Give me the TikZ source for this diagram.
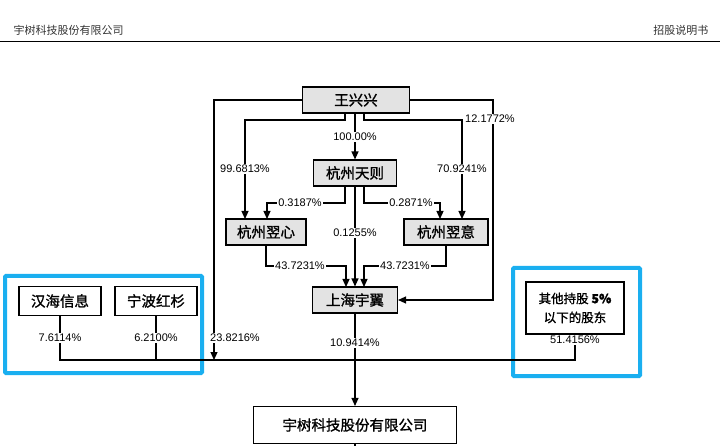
\documentclass[tikz,border=0pt]{standalone}
\usepackage{fontspec}
\setmainfont{Liberation Sans}
\newfontfamily\cjk[FakeBold=1.2]{Noto Sans CJK SC}
\newfontfamily\cjkh{Noto Sans CJK SC}
\definecolor{hl}{HTML}{1AAFF0}
\usetikzlibrary{arrows.meta}
\begin{document}
\begin{tikzpicture}[x=1pt,y=-1pt,
 box/.style={draw,line width=1.1pt,fill=gray!22,font=\cjk\fontsize{14.5}{16}\selectfont,inner sep=0pt,minimum height=26pt},
 wbox/.style={box,fill=white},
 lab/.style={fill=white,inner sep=1pt,font=\fontsize{11}{13}\selectfont},
 ln/.style={line width=1.2pt},
 ar/.style={line width=1.2pt,-{Triangle[length=8pt,width=7pt]}},
 blue/.style={draw=hl,line width=4pt,rounded corners=1pt}]
\useasboundingbox (0,0) rectangle (720,446);
\node[anchor=west,font=\cjkh\fontsize{11}{13}\selectfont,text=black!80] (h1) at (10,30) {宇树科技股份有限公司};
\node[anchor=east,font=\cjkh\fontsize{11}{13}\selectfont,text=black!80] (h2) at (712,30) {招股说明书};
\draw[thick] (0,41) -- (720,41);
\node[box,minimum width=107pt] (w) at (356,100) {王兴兴};
\node[box,minimum width=83pt] (t) at (355,173) {杭州天则};
\node[box,minimum width=80pt] (xx) at (266,232) {杭州翌心};
\node[box,minimum width=84pt] (xy) at (446,232) {杭州翌意};
\node[box,minimum width=85pt] (sh) at (355,300) {上海宇翼};
\node[wbox,minimum width=82pt,minimum height=29pt] (hh) at (60,301) {汉海信息};
\node[wbox,minimum width=82pt,minimum height=29pt] (nb) at (156,301) {宁波红杉};
\node[wbox,minimum width=98pt,minimum height=52pt,align=center,font=\cjk\fontsize{12.5}{19}\selectfont] (ot) at (575,308) {其他持股 \textbf{5\%}\\以下的股东};
\node[wbox,minimum width=203pt,minimum height=37pt] (ys) at (355,425) {宇树科技股份有限公司};
\draw[blue] (5,276) rectangle (202,373);
\draw[blue] (513,268) rectangle (640,376);
% 王兴兴
\draw[ar] (w.west) -| (214,360);
\draw[ar] (w.east) -| (493,300) -- (sh.east);
\draw[ar] (345,113) |- (245,120) -- (245,219);
\draw[ar] (355,113) -- (t.north);
\draw[ar] (364,113) |- (462,120) -- (462,219);
% 天则
\draw[ar] (345,186) |- (267,203) -- (267,219);
\draw[ar] (t.south) -- (sh.north);
\draw[ar] (364,186) |- (440,203) -- (440,219);
% 翌心/翌意
\draw[ar] (xx.south) |- (346,266) -- (346,287);
\draw[ar] (xy.south) |- (364,266) -- (364,287);
\draw[ar] (sh.south) -- (ys.north);
\draw[ln] (ys.south) -- (355,446);
\draw[ln] (hh.south) -- (60,360) -- (ot.south |- 0,360) -- (ot.south);
\draw[ln] (nb.south) -- (156,360);
\node[lab] (l1) at (245,169) {99.6813\%};
\node[lab] (l2) at (355,137) {100.00\%};
\node[lab] (l3) at (462,169) {70.9241\%};
\node[lab] (l4) at (490,119) {12.1772\%};
\node[lab] (l5) at (300,203) {0.3187\%};
\node[lab] (l6) at (355,233) {0.1255\%};
\node[lab] (l7) at (411,203) {0.2871\%};
\node[lab] (l8) at (300,266) {43.7231\%};
\node[lab] (l9) at (405,266) {43.7231\%};
\node[lab] (l10) at (355,343) {10.9414\%};
\node[lab] (l11) at (60,338) {7.6114\%};
\node[lab] (l12) at (156,338) {6.2100\%};
\node[lab] (l13) at (235,338) {23.8216\%};
\node[lab] (l14) at (575,340) {51.4156\%};
\end{tikzpicture}
\end{document}
